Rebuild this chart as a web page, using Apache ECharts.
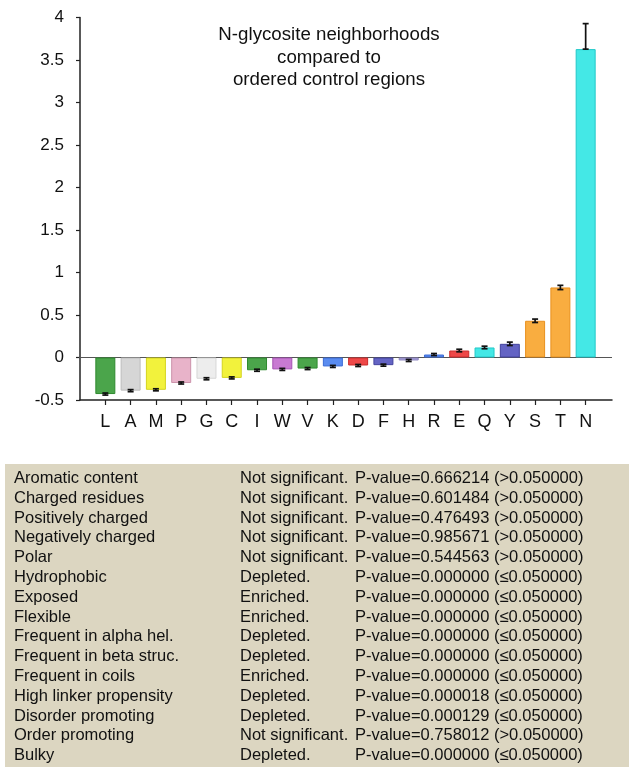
<!DOCTYPE html>
<html>
<head>
<meta charset="utf-8">
<title>N-glycosite neighborhoods</title>
<script src="https://cdn.jsdelivr.net/npm/echarts@6/dist/echarts.min.js"></script>
<style>
  html, body { margin: 0; padding: 0; background: #ffffff; }
  #chart { width: 629px; height: 767px; }
</style>
</head>
<body>
<div id="chart"></div>
<script>
// Amino acids, ordered by enrichment score
const categories = ['L','A','M','P','G','C','I','W','V','K','D','F','H','R','E','Q','Y','S','T','N'];
const values = [-0.43,-0.39,-0.38,-0.30,-0.25,-0.24,-0.15,-0.14,-0.13,-0.105,-0.094,-0.09,-0.035,0.035,0.082,0.118,0.161,0.432,0.824,3.628];
// Error bar extents below / above each value
const errLow  = [0.012,0.012,0.012,0.012,0.012,0.012,0.012,0.012,0.012,0.012,0.012,0.012,0.012,0.012,0.015,0.015,0.02,0.02,0.025,0];
const errHigh = [0.012,0.012,0.012,0.012,0.012,0.012,0.012,0.012,0.012,0.012,0.012,0.012,0.012,0.012,0.015,0.015,0.02,0.02,0.025,0.30];
// Residue group colours (fill / outline)
const fillColors = ['#4ba54b','#d6d6d6','#f2f23c','#e8b3c9','#ededed','#f2f23c','#4ba54b','#c87ad2','#4ba54b','#5a8cf0','#ee4848','#6464c4','#aaa2da','#5a8cf0','#ee4848','#44e8e6','#6464c4','#f9ad40','#f9ad40','#44e8e6'];
const edgeColors = ['#2f8a2f','#bdbdbd','#d4d41e','#cc93ab','#d6d6d6','#d4d41e','#2f8a2f','#a553b3','#2f8a2f','#3a6bd6','#cc2a2a','#42429e','#8c84c0','#3a6bd6','#cc2a2a','#22c8c8','#42429e','#e8901e','#e8901e','#22c8c8'];
const yTicks = { min: -0.5, max: 4, interval: 0.5 };

// Property statistics table
const tableFeatures = ['Aromatic content','Charged residues','Positively charged','Negatively charged','Polar','Hydrophobic','Exposed','Flexible','Frequent in alpha hel.','Frequent in beta struc.','Frequent in coils','High linker propensity','Disorder promoting','Order promoting','Bulky'];
const tableStatus = ['Not significant.','Not significant.','Not significant.','Not significant.','Not significant.','Depleted.','Enriched.','Enriched.','Depleted.','Depleted.','Enriched.','Depleted.','Depleted.','Not significant.','Depleted.'];
const tablePValues = ['0.666214','0.601484','0.476493','0.985671','0.544563','0.000000','0.000000','0.000000','0.000000','0.000000','0.000000','0.000018','0.000129','0.758012','0.000000'];
const tableRelation = ['>','>','>','>','>','≤','≤','≤','≤','≤','≤','≤','≤','>','≤'];
const threshold = '0.050000';

const FONT = '"Liberation Sans", Arial, Helvetica, sans-serif';
const chart = echarts.init(document.getElementById('chart'), null, { renderer: 'canvas' });

const gridTop = 17.5, gridBottom = 367;

// Table drawn as graphic elements
const tableTop = 464, rowStart = 478.5, rowStep = 19.8;
const tableGraphics = [{
  type: 'rect', left: 5, top: tableTop, z: 0,
  shape: { width: 624, height: 767 - tableTop },
  style: { fill: '#dcd6c1' }
}];
tableFeatures.forEach((name, i) => {
  const y = rowStart + i * rowStep;
  const st = { fill: '#111', font: '16.5px ' + FONT, textVerticalAlign: 'middle' };
  tableGraphics.push({ type: 'text', x: 14, y: y, z: 1, style: Object.assign({ text: name }, st) });
  tableGraphics.push({ type: 'text', x: 240, y: y, z: 1, style: Object.assign({ text: tableStatus[i] }, st) });
  tableGraphics.push({ type: 'text', x: 355, y: y, z: 1,
    style: Object.assign({ text: 'P-value=' + tablePValues[i] + ' (' + tableRelation[i] + threshold + ')' }, st) });
});

const errorData = values.map((v, i) => [i, v, v - errLow[i], v + errHigh[i]]);

const option = {
  backgroundColor: '#ffffff',
  animation: false,
  textStyle: { fontFamily: FONT },
  title: {
    text: 'N-glycosite neighborhoods\ncompared to\nordered control regions',
    left: 324, top: 19, textAlign: 'center',
    textStyle: { fontFamily: FONT, fontSize: 18.7, fontWeight: 'normal', color: '#111', lineHeight: 22.5, align: 'center' }
  },
  grid: [
    { left: 80, right: 17, top: gridTop, bottom: gridBottom },
    { left: 92.7, right: 30.7, top: gridTop, bottom: gridBottom }
  ],
  xAxis: [
    {
      gridIndex: 0, type: 'value', min: 0, max: 1, position: 'bottom',
      axisLine: { show: true, onZero: false, lineStyle: { color: '#222', width: 1.5 } },
      axisTick: { show: false }, axisLabel: { show: false }, splitLine: { show: false }
    },
    {
      gridIndex: 1, type: 'category', data: categories, position: 'bottom',
      axisLine: { show: false, onZero: false },
      axisTick: { show: true, alignWithLabel: true, length: 5, lineStyle: { color: '#222', width: 1.2 } },
      axisLabel: { fontFamily: FONT, fontSize: 18, color: '#111', margin: 13 },
      splitLine: { show: false }
    }
  ],
  yAxis: [
    {
      gridIndex: 0, type: 'value', min: yTicks.min, max: yTicks.max, interval: yTicks.interval,
      axisLine: { show: true, lineStyle: { color: '#222', width: 1.5 } },
      axisTick: { show: true, length: 4, lineStyle: { color: '#222', width: 1.2 } },
      axisLabel: { fontFamily: FONT, fontSize: 17, color: '#111', margin: 16 },
      splitLine: { show: false }
    },
    {
      gridIndex: 1, type: 'value', min: yTicks.min, max: yTicks.max, interval: yTicks.interval,
      show: false, splitLine: { show: false }
    }
  ],
  series: [
    {
      // zero baseline across the plot
      type: 'line', xAxisIndex: 0, yAxisIndex: 0,
      data: [[-0.006, 0], [1, 0]], symbol: 'none', silent: true,
      lineStyle: { color: '#555', width: 1.2 }, z: 1
    },
    {
      type: 'bar', xAxisIndex: 1, yAxisIndex: 1, barWidth: 20, z: 2,
      data: values.map((v, i) => ({
        value: v,
        itemStyle: { color: fillColors[i], borderColor: edgeColors[i], borderWidth: 1 }
      }))
    },
    {
      type: 'custom', xAxisIndex: 1, yAxisIndex: 1, z: 3,
      data: errorData,
      renderItem: function (params, api) {
        const x = api.value(0);
        const lo = api.coord([x, api.value(2)]);
        const hi = api.coord([x, api.value(3)]);
        const half = 3;
        const st = { stroke: '#111', lineWidth: 1.7 };
        return {
          type: 'group',
          children: [
            { type: 'line', shape: { x1: hi[0], y1: hi[1], x2: lo[0], y2: lo[1] }, style: st },
            { type: 'line', shape: { x1: hi[0] - half, y1: hi[1], x2: hi[0] + half, y2: hi[1] }, style: st },
            { type: 'line', shape: { x1: lo[0] - half, y1: lo[1], x2: lo[0] + half, y2: lo[1] }, style: st }
          ]
        };
      }
    }
  ],
  graphic: tableGraphics
};

chart.setOption(option);
</script>
</body>
</html>
